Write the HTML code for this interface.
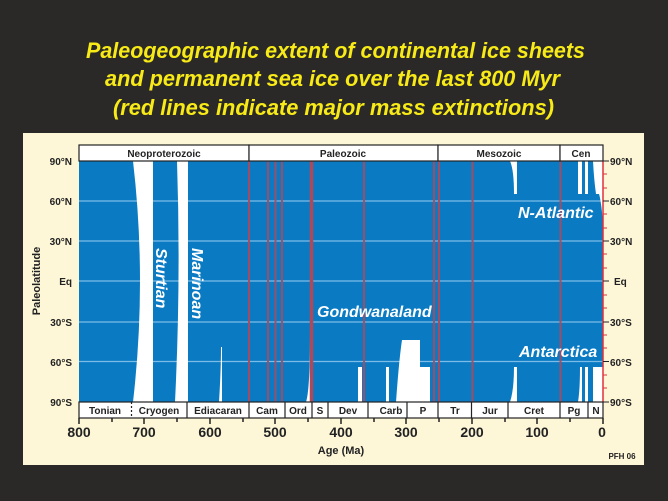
<!DOCTYPE html>
<html><head><style>body{margin:0;background:#2b2927;}svg{display:block}</style></head><body>
<svg width="668" height="501" xmlns="http://www.w3.org/2000/svg" font-family="Liberation Sans, sans-serif">
<rect width="668" height="501" fill="#2b2927"/>
<g fill="#f7ea16" font-weight="bold" font-style="italic" font-size="22">
<text x="86" y="58" textLength="499" lengthAdjust="spacingAndGlyphs">Paleogeographic extent of continental ice sheets</text>
<text x="105" y="86" textLength="455" lengthAdjust="spacingAndGlyphs">and permanent sea ice over the last 800 Myr</text>
<text x="113" y="115" textLength="441" lengthAdjust="spacingAndGlyphs">(red lines indicate major mass extinctions)</text>
</g>
<rect x="23" y="133" width="621" height="332" fill="#fdf7d8"/>
<!-- plot -->
<rect x="79" y="161" width="524" height="241" fill="#0a7bc3"/>
<g stroke="#7cbde8" stroke-width="1.2">
<line x1="79" x2="603" y1="201" y2="201"/><line x1="79" x2="603" y1="241" y2="241"/>
<line x1="79" x2="603" y1="281" y2="281"/><line x1="79" x2="603" y1="322" y2="322"/>
<line x1="79" x2="603" y1="361.5" y2="361.5"/></g>
<!-- ice -->
<g fill="#fff">
<path d="M133 161 Q147 281 133 402 L153 402 L153 161 Z"/>
<path d="M177 161 Q181 281 175 402 L188 402 L188 161 Z"/>
<path d="M219 402 Q221 370 221 347 L222 347 L222 402Z"/>
<path d="M306 402 Q310 390 310 333 L313 402Z"/>
<rect x="358" y="367" width="4" height="35"/>
<rect x="386" y="367" width="3" height="35"/>
<path d="M396 402 Q399 360 402 340 L420 340 L420 367 L430 367 L430 402Z"/>
<path d="M510 161 Q514 170 514 194 L517 194 L517 161Z"/>
<path d="M510 402 Q514 390 514 367 L517 367 L517 402Z"/>
<rect x="578" y="161" width="4" height="33"/><rect x="585" y="161" width="3" height="33"/>
<path d="M578 402 Q580 390 580 367 L582 367 L582 402Z"/><rect x="585" y="367" width="3" height="35"/>
<path d="M593 161 L603 161 L603 222 Q601 200 599 194 L596 194 Q594 180 593 161Z"/>
<rect x="593" y="367" width="10" height="35"/>
</g>
<rect x="310" y="333" width="3" height="69" fill="#f4a0a0"/>
<g stroke="#b0485a" stroke-width="2" opacity="0.9">
<line x1="249" x2="249" y1="161" y2="402"/><line x1="268" x2="268" y1="161" y2="402"/>
<line x1="275.5" x2="275.5" y1="161" y2="402"/><line x1="282" x2="282" y1="161" y2="402"/>
<line x1="364" x2="364" y1="161" y2="402"/><line x1="434" x2="434" y1="161" y2="402"/>
<line x1="439" x2="439" y1="161" y2="402"/><line x1="472.5" x2="472.5" y1="161" y2="402"/>
<line x1="560.5" x2="560.5" y1="161" y2="402"/>
</g>
<line x1="311.5" x2="311.5" y1="161" y2="402" stroke="#b0485a" stroke-width="3.5"/>
<line x1="603" x2="603" y1="161" y2="402" stroke="#e0303a" stroke-width="1.5"/>
<g stroke="#e0303a" stroke-width="1"><path d="M603 174h4M603 188h4M603 214h4M603 228h4M603 254h4M603 268h4M603 295h4M603 308h4M603 335h4M603 348h4M603 375h4M603 388h4"/></g>
<g stroke="#222" stroke-width="1"><path d="M603 161h6M603 201h6M603 241h6M603 281h6M603 322h6M603 361.5h6M603 402h6"/></g>
<!-- text on plot -->
<g fill="#fff" font-weight="bold" font-style="italic">
<text x="0" y="0" font-size="16" transform="translate(156,248) rotate(90)">Sturtian</text>
<text x="0" y="0" font-size="16" transform="translate(192,248) rotate(90)">Marinoan</text>
<text x="317" y="317" font-size="16">Gondwanaland</text>
<text x="518" y="218" font-size="16">N-Atlantic</text>
<text x="519" y="357" font-size="16">Antarctica</text>
</g>
<!-- header bar -->
<g fill="#fff" stroke="#222" stroke-width="1.2">
<rect x="79" y="145" width="170" height="16"/><rect x="249" y="145" width="189" height="16"/>
<rect x="438" y="145" width="122" height="16"/><rect x="560" y="145" width="43" height="16"/>
<rect x="79" y="402" width="524" height="16"/>
</g>
<g stroke="#222" stroke-width="1.2">
<path d="M187 402v16M249 402v16M285 402v16M312 402v16M328 402v16M368 402v16M407 402v16M438 402v16M471.5 402v16M508 402v16M560 402v16M588 402v16"/>
<path d="M131.5 402v16" stroke-dasharray="2,2"/>
</g>
<g font-size="10" font-weight="bold" fill="#222" text-anchor="middle">
<text x="164" y="157">Neoproterozoic</text><text x="343" y="157">Paleozoic</text>
<text x="499" y="157">Mesozoic</text><text x="581" y="157">Cen</text>
<text x="105" y="414">Tonian</text><text x="159" y="414">Cryogen</text><text x="218" y="414">Ediacaran</text>
<text x="267" y="414">Cam</text><text x="298" y="414">Ord</text><text x="320" y="414">S</text>
<text x="348" y="414">Dev</text><text x="391" y="414">Carb</text><text x="423" y="414">P</text>
<text x="455" y="414">Tr</text><text x="490" y="414">Jur</text><text x="534" y="414">Cret</text>
<text x="574" y="414">Pg</text><text x="596" y="414">N</text>
</g>
<!-- x axis ticks -->
<g stroke="#222" stroke-width="1.5"><path d="M79 418v6M112 418v4M144 418v6M177 418v4M210 418v6M243 418v4M275 418v6M308 418v4M341 418v6M374 418v4M406 418v6M439 418v4M472 418v6M505 418v4M537 418v6M570 418v4M603 418v6"/></g>
<g font-size="14" font-weight="bold" fill="#222" text-anchor="middle">
<text x="79" y="437">800</text><text x="144" y="437">700</text><text x="210" y="437">600</text>
<text x="275" y="437">500</text><text x="341" y="437">400</text><text x="406" y="437">300</text>
<text x="472" y="437">200</text><text x="537" y="437">100</text><text x="602" y="437">0</text>
</g>
<text x="341" y="454" font-size="11" font-weight="bold" fill="#222" text-anchor="middle">Age (Ma)</text>
<text x="622" y="459" font-size="8" font-weight="bold" fill="#222" text-anchor="middle">PFH 06</text>
<!-- y labels -->
<g font-size="10" font-weight="bold" fill="#222" text-anchor="end">
<text x="72" y="165">90°N</text><text x="72" y="205">60°N</text><text x="72" y="245">30°N</text>
<text x="72" y="285">Eq</text><text x="72" y="326">30°S</text><text x="72" y="366">60°S</text><text x="72" y="406">90°S</text>
</g>
<g font-size="10" font-weight="bold" fill="#222">
<text x="610" y="165">90°N</text><text x="610" y="205">60°N</text><text x="610" y="245">30°N</text>
<text x="614" y="285">Eq</text><text x="610" y="326">30°S</text><text x="610" y="366">60°S</text><text x="610" y="406">90°S</text>
</g>
<text transform="translate(40,281) rotate(-90)" font-size="11" font-weight="bold" fill="#222" text-anchor="middle">Paleolatitude</text>
</svg>
</body></html>
